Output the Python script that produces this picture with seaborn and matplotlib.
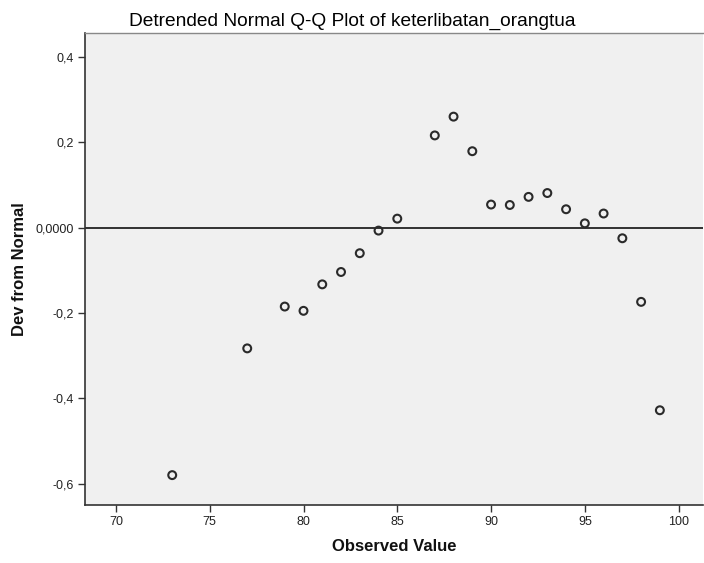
import matplotlib
matplotlib.use("Agg")
import matplotlib.pyplot as plt
import seaborn as sns
import pandas as pd

observed = [73, 77, 79, 80, 81, 82, 83, 84, 85, 87, 88, 89, 90, 91, 92, 93, 94, 95, 96, 97, 98, 99]
deviation = [-0.580, -0.283, -0.185, -0.195, -0.133, -0.104, -0.060, -0.007, 0.021, 0.216,
             0.260, 0.179, 0.054, 0.053, 0.072, 0.081, 0.043, 0.010, 0.033, -0.025, -0.174, -0.428]
x_ticks = [70, 75, 80, 85, 90, 95, 100]
y_ticks = [0.4, 0.2, 0.0, -0.2, -0.4, -0.6]
y_tick_labels = ["0,4", "0,2", "0,0000", "-0,2", "-0,4", "-0,6"]

sns.set_style("white")
plt.rcParams['font.family'] = ['Liberation Sans', 'DejaVu Sans']

df = pd.DataFrame({"Observed Value": observed, "Dev from Normal": deviation})

fig = plt.figure(figsize=(7.04, 5.63), dpi=100)
ax = fig.add_axes([85/704, (563-505)/563, (703-85)/704, (505-33)/563])
ax.set_facecolor("#F0F0F0")

ax.axhline(0, color="#222222", lw=1.3, zorder=1)
sns.scatterplot(data=df, x="Observed Value", y="Dev from Normal", ax=ax,
                marker="o", s=32, facecolor="none", edgecolor="#2a2a2a",
                linewidth=1.5, zorder=3)

ax.set_xlim(68.35, 101.3)
ax.set_ylim(-0.65, 0.456)
ax.set_xticks(x_ticks)
ax.set_xticklabels([str(t) for t in x_ticks])
ax.set_yticks(y_ticks)
ax.set_yticklabels(y_tick_labels)
ax.tick_params(axis="both", direction="out", length=5, width=1, color="#333333",
               labelsize=9, labelcolor="#222222", pad=3, left=True, bottom=True)

for side in ["left", "bottom"]:
    ax.spines[side].set_color("#333333")
    ax.spines[side].set_linewidth(1.2)
ax.spines["top"].set_color("#888888")
ax.spines["top"].set_linewidth(1.0)
ax.spines["right"].set_visible(False)

ax.set_xlabel("Observed Value", fontsize=12, fontweight="bold", color="#111111", labelpad=8)
ax.set_ylabel("Dev from Normal", fontsize=12, fontweight="bold", color="#111111", labelpad=6)
fig.text(0.5, 1 - 21/563, "Detrended Normal Q-Q Plot of keterlibatan_orangtua",
         fontsize=13.8, color="#000000", ha="center", va="center")

fig.savefig("out.png", dpi=100)
